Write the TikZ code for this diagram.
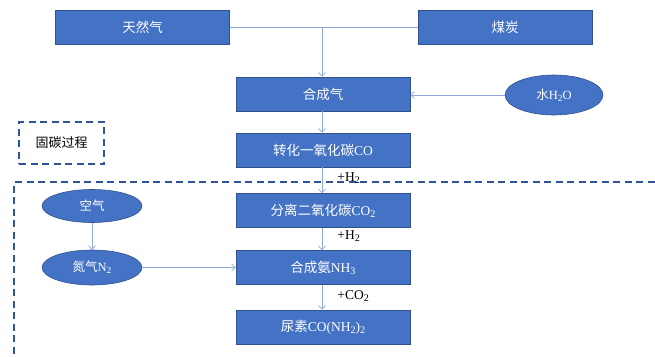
\documentclass[tikz,border=0pt]{standalone}
\usepackage{fontspec}
\setmainfont{Liberation Serif}
\newfontfamily\cjk{Noto Sans CJK SC}
\usetikzlibrary{arrows.meta,shapes.geometric}
\definecolor{boxblue}{HTML}{4472C4}
\definecolor{boxedge}{HTML}{2F528F}
\definecolor{linkblue}{HTML}{8FAADC}
\definecolor{dashblue}{HTML}{2F5597}
\newcommand\lsub[1]{\raisebox{-0.3ex}{\scalebox{0.75}{#1}}}
\tikzset{
  procbox/.style={rectangle, fill=boxblue, draw=boxedge, line width=0.6pt, text=white,
    minimum width=174pt, minimum height=34pt, inner sep=0pt, font=\fontsize{13.5}{16}\selectfont},
  ovalnode/.style={ellipse, fill=boxblue, draw=boxedge, line width=0.6pt, text=white,
    minimum width=100pt, minimum height=35pt, inner sep=0pt, font=\fontsize{12.5}{15}\selectfont},
  link/.style={draw=linkblue, line width=0.8pt},
  arr/.style={link, -{Straight Barb[length=3.5pt,width=7pt]}},
  steplabel/.style={font=\fontsize{13.5}{15}\selectfont, text=black, anchor=west, inner sep=1pt},
  dashframe/.style={draw=dashblue, line width=1.8pt, dash pattern=on 7pt off 4.5pt}
}
\begin{document}
\begin{tikzpicture}[x=1pt,y=-1pt]
\clip (0,0) rectangle (655,356);
\fill[white] (0,0) rectangle (655,356);

% frames
\draw[dashframe] (14,365) -- (14,182) -- (665,182);
\node[draw=dashblue, line width=1.8pt, dash pattern=on 7pt off 4.5pt, minimum width=85pt,
  minimum height=42pt, inner sep=0pt, font=\fontsize{13}{15}\selectfont] (gutan) at (61.5,143) {\cjk 固碳过程};

% nodes
\node[procbox] (ng) at (142.5,27.5) {\cjk 天然气};
\node[procbox] (coal) at (505,27.5) {\cjk 煤炭};
\node[procbox] (syn) at (323,94) {\cjk 合成气};
\node[ovalnode, minimum width=98pt, minimum height=40pt] (water) at (554,95) {{\cjk 水}H\lsub{2}O};
\node[procbox] (co) at (323,150) {{\cjk 转化一氧化碳}CO};
\node[procbox] (sep) at (323,210.5) {{\cjk 分离二氧化碳}CO\lsub{2}};
\node[procbox] (nh3) at (323,267.5) {{\cjk 合成氨}NH\lsub{3}};
\node[procbox] (urea) at (323,327) {{\cjk 尿素}CO(NH\lsub{2})\lsub{2}};
\node[ovalnode, minimum height=33pt] (air) at (92,206) {\cjk 空气};
\node[ovalnode] (n2) at (92,267.5) {{\cjk 氮气}N\lsub{2}};

% connectors
\coordinate (join) at (322,27.5);
\draw[link] (ng.east) -- (coal.west);
\draw[arr] (join) -- (join |- syn.north);
\draw[arr] (water.west) -- (water.west -| syn.east);
\draw[arr] (join |- syn.south) -- (join |- co.north);
\draw[arr] (join |- co.south) -- node[steplabel, xshift=14pt, yshift=2pt] {+H\lsub{2}} (join |- sep.north);
\draw[arr] (join |- sep.south) -- node[steplabel, xshift=14pt, yshift=3pt] {+H\lsub{2}} (join |- nh3.north);
\draw[arr] (join |- nh3.south) -- node[steplabel, xshift=14pt, yshift=1pt] {+CO\lsub{2}} (join |- urea.north);
\draw[arr] (air.south) -- (n2.north);
\draw[arr] (n2.east) -- (n2.east -| nh3.west);
\end{tikzpicture}
\end{document}
